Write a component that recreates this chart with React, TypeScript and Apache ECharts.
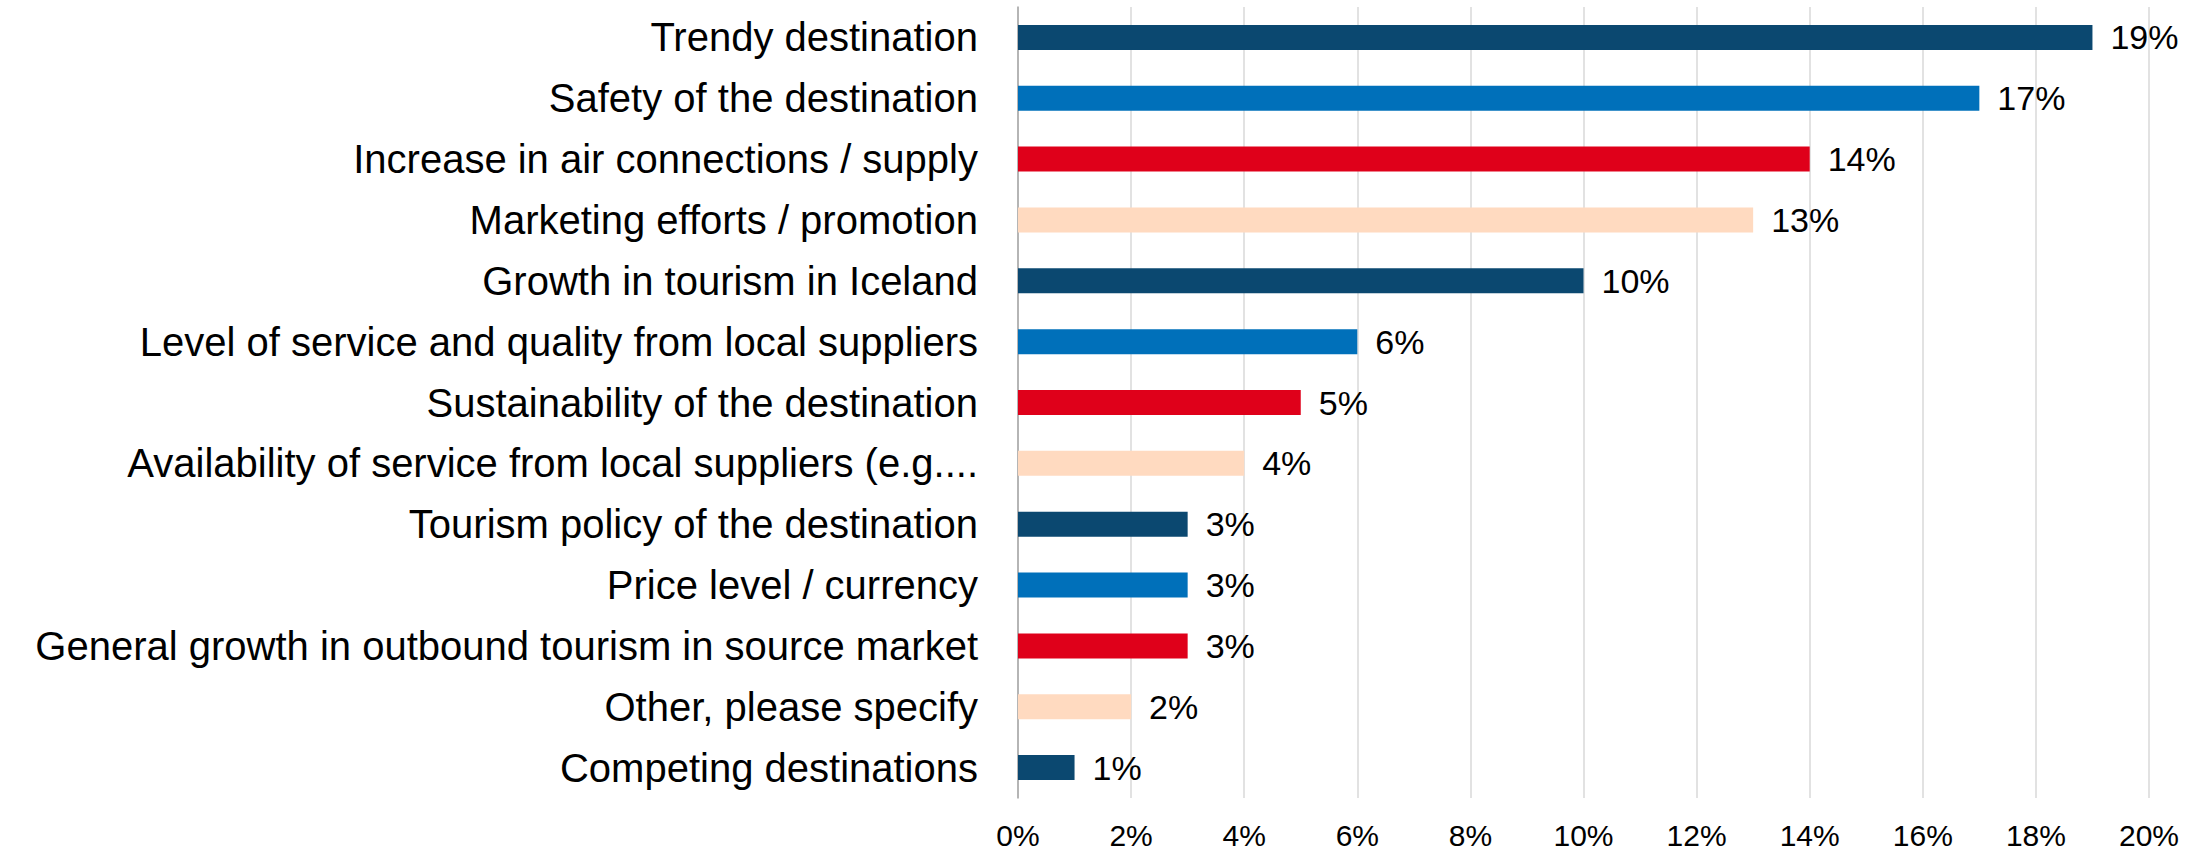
import React, { useEffect, useRef } from "react";
import * as echarts from "echarts";

const categories = [
  "Trendy destination",
  "Safety of the destination",
  "Increase in air connections / supply",
  "Marketing efforts / promotion",
  "Growth in tourism in Iceland",
  "Level of service and quality from local suppliers",
  "Sustainability of the destination",
  "Availability of service from local suppliers (e.g....",
  "Tourism policy of the destination",
  "Price level / currency",
  "General growth in outbound tourism in source market",
  "Other, please specify",
  "Competing destinations",
];

const values = [19, 17, 14, 13, 10, 6, 5, 4, 3, 3, 3, 2, 1];

const palette = ["#0B4870", "#0070BA", "#DF001A", "#FFDAC0"];

const xTicks = { min: 0, max: 20, interval: 2 };

export default function App() {
  const ref = useRef<HTMLDivElement>(null);

  useEffect(() => {
    if (!ref.current) return;
    const chart = echarts.init(ref.current, undefined, { renderer: "svg" });
    chart.setOption({
      animation: false,
      backgroundColor: "#ffffff",
      grid: { left: 1018, right: 57, top: 7, bottom: 53, containLabel: false },
      xAxis: {
        type: "value",
        min: xTicks.min,
        max: xTicks.max,
        interval: xTicks.interval,
        axisLine: { show: false },
        axisTick: { show: false },
        splitLine: { show: true, lineStyle: { color: "#d9d9d9", width: 1.5 } },
        axisLabel: {
          formatter: "{value}%",
          fontFamily: "Liberation Sans, Arial, sans-serif",
          fontSize: 30,
          color: "#000",
          margin: 22,
        },
      },
      yAxis: {
        type: "category",
        data: categories,
        inverse: true,
        axisLine: { show: true, lineStyle: { color: "#a6a6a6", width: 1.5 } },
        axisTick: { show: false },
        splitLine: { show: false },
        axisLabel: {
          fontFamily: "Liberation Sans, Arial, sans-serif",
          fontSize: 40,
          color: "#000",
          margin: 40,
        },
      },
      series: [
        {
          type: "bar",
          barWidth: 25,
          data: values.map((v, i) => ({
            value: v,
            itemStyle: { color: palette[i % palette.length] },
          })),
          label: {
            show: true,
            position: "right",
            distance: 18,
            formatter: "{c}%",
            fontFamily: "Liberation Sans, Arial, sans-serif",
            fontSize: 34,
            color: "#000",
          },
        },
      ],
    });
    return () => chart.dispose();
  }, []);

  return (
    <div
      ref={ref}
      style={{ position: "fixed", left: 0, top: 0, width: 2206, height: 851 }}
    />
  );
}
